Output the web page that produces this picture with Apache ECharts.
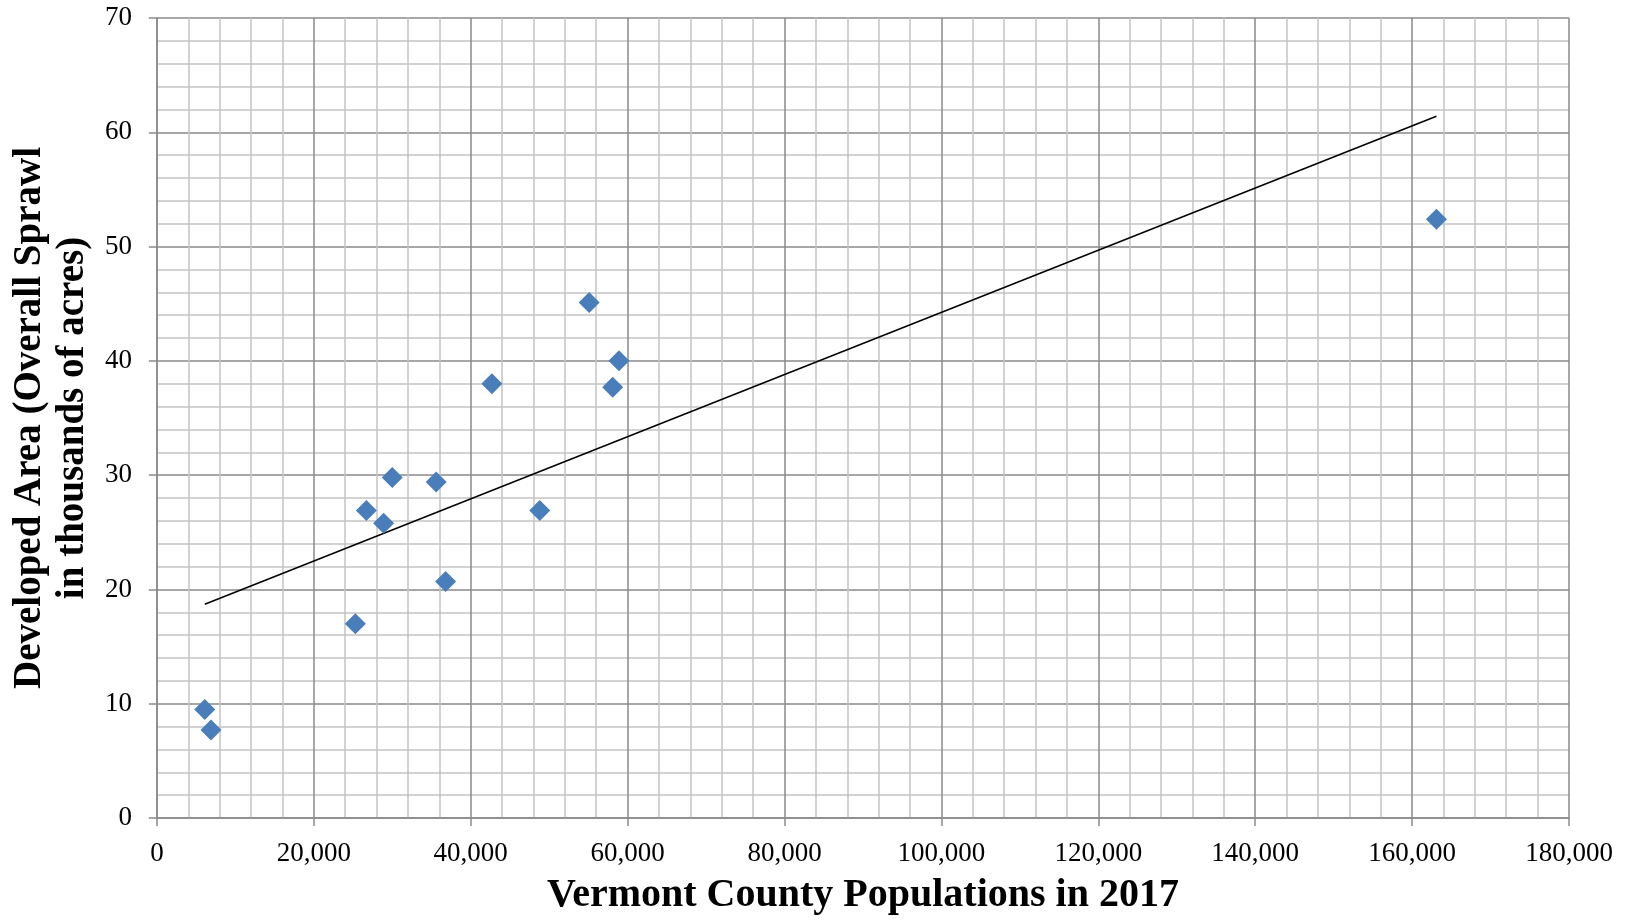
<!DOCTYPE html>
<html>
<head>
<meta charset="utf-8">
<script src="https://cdn.jsdelivr.net/npm/echarts@6/dist/echarts.min.js"></script>
<style>
  html, body { margin: 0; padding: 0; background: #ffffff; }
  #chart { width: 1629px; height: 921px; }
</style>
</head>
<body>
<div id="chart"></div>
<script>
// County populations (2017) and developed area (thousands of acres)
const populations = [6100, 6900, 25300, 26700, 28900, 30000, 35600, 36800, 42700, 48800, 55100, 58100, 58900, 163100];
const developedArea = [9.5, 7.7, 17.0, 26.9, 25.8, 29.8, 29.4, 20.7, 38.0, 26.9, 45.1, 37.7, 40.0, 52.4];
// Linear trend line endpoints
const trendX = [6100, 163100];
const trendY = [18.7, 61.4];

const xTitle = 'Vermont County Populations in 2017';
const yTitle = 'Developed Area (Overall Sprawl\nin thousands of acres)';

const points = populations.map((x, i) => [x, developedArea[i]]);
const trend = trendX.map((x, i) => [x, trendY[i]]);

const serif = '"Liberation Serif", "DejaVu Serif", serif';
const majorColor = '#8a8a8a';
const minorColor = '#c4c4c4';

const chart = echarts.init(document.getElementById('chart'), null, { renderer: 'canvas' });
chart.setOption({
  animation: false,
  backgroundColor: '#ffffff',
  grid: { left: 155, right: 60, top: 18, bottom: 102, containLabel: false },
  xAxis: {
    type: 'value',
    min: 0, max: 180000, interval: 20000,
    name: xTitle,
    nameLocation: 'middle',
    nameGap: 58,
    nameTextStyle: { fontFamily: serif, fontWeight: 'bold', fontSize: 40, color: '#000' },
    axisLine: { show: true, lineStyle: { color: majorColor, width: 1.5 } },
    axisTick: { show: true, inside: false, length: 8, lineStyle: { color: majorColor, width: 1.5 } },
    axisLabel: {
      fontFamily: serif, fontSize: 27, color: '#000', margin: 22,
      formatter: v => v.toLocaleString('en-US')
    },
    splitLine: { show: true, lineStyle: { color: majorColor, width: 1.5 } },
    minorTick: { show: false, splitNumber: 5 },
    minorSplitLine: { show: true, lineStyle: { color: minorColor, width: 1.5 } }
  },
  yAxis: {
    type: 'value',
    min: 0, max: 70, interval: 10,
    name: yTitle,
    nameLocation: 'middle',
    nameRotate: 90,
    nameGap: 58,
    nameTextStyle: { fontFamily: serif, fontWeight: 'bold', fontSize: 39, lineHeight: 43, color: '#000', align: 'center' },
    axisLine: { show: true, lineStyle: { color: majorColor, width: 1.5 } },
    axisTick: { show: true, inside: false, length: 8, lineStyle: { color: majorColor, width: 1.5 } },
    axisLabel: { fontFamily: serif, fontSize: 27, color: '#000', margin: 25 },
    splitLine: { show: true, lineStyle: { color: majorColor, width: 1.5 } },
    minorTick: { show: false, splitNumber: 5 },
    minorSplitLine: { show: true, lineStyle: { color: minorColor, width: 1.5 } }
  },
  series: [
    {
      type: 'line',
      data: trend,
      showSymbol: false,
      symbol: 'none',
      lineStyle: { color: '#000000', width: 1.5 },
      z: 3,
      silent: true
    },
    {
      type: 'scatter',
      data: points,
      symbol: 'diamond',
      symbolSize: 21,
      itemStyle: { color: '#4a7ebb', opacity: 1 },
      z: 4
    }
  ]
});
</script>
</body>
</html>
